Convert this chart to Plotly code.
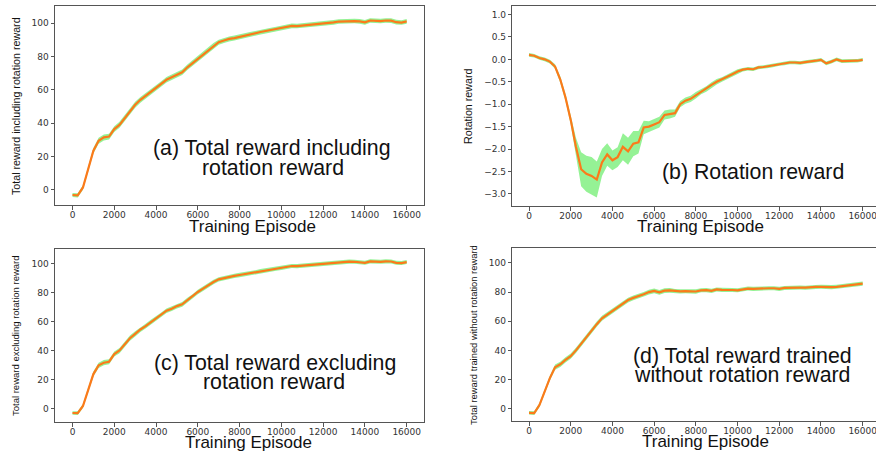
import plotly.graph_objects as go

# ---------------- data ----------------
episodes = list(range(0, 16001, 250))

reward_incl = [-3.0, -3.2, 1.5, 12.5, 23.5, 29.5, 31.5, 32.0, 36.5, 39.0, 43.0, 47.5, 51.0, 54.0, 56.5, 59.0,
               61.0, 63.5, 66.0, 67.5, 69.0, 70.5, 73.5, 76.0, 79.0, 81.5, 84.0, 86.5, 88.5, 89.5, 90.5, 91.0,
               91.8, 92.5, 93.2, 93.8, 94.6, 95.2, 95.8, 96.4, 97.0, 97.6, 98.3, 98.2, 98.5, 99.0, 99.3, 99.5,
               99.9, 99.8, 100.4, 100.9, 101.0, 101.3, 101.2, 101.0, 100.4, 101.5, 101.3, 101.2, 101.5, 101.4,
               100.5, 100.3, 101.0]
std_incl = [1.2, 1.3, 1.4, 1.6, 1.7, 1.8, 1.8, 1.7, 1.7, 1.8, 1.8, 1.8, 1.8, 1.7, 1.7, 1.7,
            1.7, 1.7, 1.6, 1.6, 1.6, 1.6, 1.6, 1.6, 1.6, 1.6, 1.6, 1.6, 1.5, 1.5, 1.5, 1.5,
            1.5, 1.4, 1.4, 1.4, 1.4, 1.4, 1.4, 1.4, 1.4, 1.4, 1.4, 1.4, 1.4, 1.4, 1.4, 1.4,
            1.4, 1.4, 1.4, 1.4, 1.4, 1.4, 1.4, 1.4, 1.4, 1.4, 1.4, 1.4, 1.4, 1.4,
            1.4, 1.4, 1.4]

rotation = [0.10, 0.08, 0.03, 0.00, -0.05, -0.16, -0.45, -0.85, -1.35, -1.95, -2.45, -2.55, -2.60, -2.68,
            -2.30, -2.12, -2.25, -2.18, -1.95, -2.05, -1.88, -1.85, -1.52, -1.50, -1.45, -1.40, -1.24, -1.22,
            -1.20, -1.00, -0.92, -0.88, -0.80, -0.72, -0.66, -0.57, -0.50, -0.45, -0.39, -0.33, -0.27, -0.23,
            -0.21, -0.22, -0.18, -0.17, -0.15, -0.13, -0.10, -0.09, -0.07, -0.07, -0.08, -0.06, -0.05, -0.03,
            -0.01, -0.09, -0.05, 0.00, -0.04, -0.04, -0.03, -0.03, -0.01]
std_rotation = [0.04, 0.04, 0.04, 0.04, 0.04, 0.05, 0.07, 0.08, 0.10, 0.20, 0.38, 0.40, 0.42, 0.40,
                0.30, 0.25, 0.22, 0.22, 0.30, 0.30, 0.28, 0.25, 0.15, 0.12, 0.12, 0.12, 0.10, 0.10,
                0.08, 0.07, 0.07, 0.07, 0.07, 0.06, 0.06, 0.06, 0.06, 0.05, 0.05, 0.05, 0.05, 0.04,
                0.04, 0.04, 0.04, 0.04, 0.04, 0.04, 0.04, 0.04, 0.04, 0.04, 0.04, 0.04, 0.04, 0.04,
                0.04, 0.04, 0.04, 0.04, 0.04, 0.04, 0.04, 0.04, 0.04]

reward_excl = [-3.0, -3.1, 1.8, 12.8, 23.8, 29.8, 31.6, 32.3, 37.6, 40.0, 44.0, 48.5, 51.5, 54.5, 56.8, 59.5,
               61.8, 64.5, 67.4, 68.8, 70.6, 71.8, 74.8, 77.2, 80.3, 82.6, 85.0, 87.2, 89.0, 89.8, 91.0, 91.4,
               92.0, 92.6, 93.3, 93.9, 94.7, 95.3, 95.9, 96.3, 96.8, 97.4, 98.2, 98.1, 98.4, 99.0, 99.3, 99.4,
               99.8, 99.7, 100.3, 100.8, 100.9, 101.2, 101.1, 101.0, 100.4, 101.4, 101.2, 101.1, 101.4, 101.3,
               100.4, 100.2, 100.9]
std_excl = [1.2, 1.3, 1.4, 1.6, 1.7, 1.8, 1.8, 1.7, 1.7, 1.8, 1.8, 1.8, 1.8, 1.7, 1.7, 1.7,
            1.7, 1.7, 1.6, 1.6, 1.6, 1.6, 1.6, 1.6, 1.6, 1.6, 1.6, 1.6, 1.5, 1.5, 1.5, 1.5,
            1.5, 1.4, 1.4, 1.4, 1.4, 1.4, 1.4, 1.4, 1.4, 1.4, 1.4, 1.4, 1.4, 1.4, 1.4, 1.4,
            1.4, 1.4, 1.4, 1.4, 1.4, 1.4, 1.4, 1.4, 1.4, 1.4, 1.4, 1.4, 1.4, 1.4,
            1.4, 1.4, 1.4]

reward_norot = [-2.8, -3.0, 2.5, 11.5, 21.0, 28.5, 30.5, 33.5, 36.0, 40.0, 44.5, 49.5, 54.0, 58.0, 62.0, 64.5,
                67.0, 69.5, 71.5, 74.5, 76.0, 77.0, 78.5, 80.0, 80.8, 79.8, 81.0, 81.2, 80.6, 80.5, 80.6, 80.4,
                80.4, 81.2, 81.3, 80.8, 81.8, 81.5, 81.7, 81.4, 81.2, 82.0, 82.4, 82.2, 82.5, 82.4, 82.6, 82.6,
                82.2, 82.8, 83.0, 82.9, 83.1, 83.0, 83.4, 83.5, 83.6, 83.3, 83.4, 83.6, 84.0, 84.2,
                84.6, 85.0, 85.8]
std_norot = [1.2, 1.3, 1.4, 1.6, 1.7, 1.8, 1.8, 1.8, 1.8, 1.8, 1.8, 1.8, 1.8, 1.8, 1.7, 1.7,
             1.7, 1.7, 1.6, 1.6, 1.6, 1.6, 1.6, 1.6, 1.6, 1.6, 1.6, 1.6, 1.5, 1.5, 1.5, 1.5,
             1.5, 1.4, 1.4, 1.4, 1.4, 1.4, 1.4, 1.4, 1.4, 1.4, 1.4, 1.4, 1.4, 1.4, 1.4, 1.4,
             1.4, 1.4, 1.4, 1.4, 1.4, 1.4, 1.4, 1.4, 1.4, 1.4, 1.4, 1.4, 1.4, 1.4,
             1.4, 1.4, 1.4]

x_ticks = [0, 2000, 4000, 6000, 8000, 10000, 12000, 14000, 16000]
x_ticktext = ["0", "2000", "4000", "6000", "8000", "10000", "12000", "14000", "16000"]
reward_ticks = [0, 20, 40, 60, 80, 100]
rotation_ticks = [-3.0, -2.5, -2.0, -1.5, -1.0, -0.5, 0.0, 0.5, 1.0]
rotation_ticktext = ["\u22123.0", "\u22122.5", "\u22122.0", "\u22121.5", "\u22121.0", "\u22120.5", "0.0", "0.5", "1.0"]

x_title = "Training Episode"
y_titles = ["Total reward including rotation reward", "Rotation reward",
            "Total reward excluding rotation reward", "Total reward trained without rotation reward"]
panel_labels = [["(a) Total reward including", "rotation reward"],
                ["(b) Rotation reward"],
                ["(c) Total reward excluding", "rotation reward"],
                ["(d) Total reward trained", "without rotation reward"]]

# ---------------- figure ----------------
W, H = 876, 452
LINE = "#fb7a1a"
BAND = "rgba(130,240,130,0.85)"
AX = "#555555"
TICKFONT = dict(family="DejaVu Sans", size=9, color="#333333")
SANS = "Liberation Sans, Arial"

def px(x):
    return x / W

def py(y):
    return 1 - y / H

fig = go.Figure()

panels = [
    dict(mean=reward_incl, std=std_incl, xd=[px(55), px(424)], yd=[py(205), py(6)],
         xr=[-838, 16828], yr=[-9.0, 110.2], mirror_y=True),
    dict(mean=rotation, std=std_rotation, xd=[px(512.3), 1.0], yd=[py(206), py(6)],
         xr=[-801, 16638], yr=[-3.27, 1.19], mirror_y=False),
    dict(mean=reward_excl, std=std_excl, xd=[px(55), px(424)], yd=[py(422), py(249)],
         xr=[-838, 16828], yr=[-9.2, 109.9], mirror_y=True),
    dict(mean=reward_norot, std=std_norot, xd=[px(512.3), 1.0], yd=[py(421), py(248.3)],
         xr=[-801, 16638], yr=[-8.4, 110.0], mirror_y=False),
]

for i, p in enumerate(panels):
    n = i + 1
    xa = "x" if n == 1 else f"x{n}"
    ya = "y" if n == 1 else f"y{n}"
    upper = [m + s for m, s in zip(p["mean"], p["std"])]
    lower = [m - s for m, s in zip(p["mean"], p["std"])]
    fig.add_trace(go.Scatter(x=episodes, y=upper, mode="lines", line=dict(width=0),
                             xaxis=xa, yaxis=ya, showlegend=False, hoverinfo="skip"))
    fig.add_trace(go.Scatter(x=episodes, y=lower, mode="lines", line=dict(width=0),
                             fill="tonexty", fillcolor=BAND,
                             xaxis=xa, yaxis=ya, showlegend=False, hoverinfo="skip"))
    fig.add_trace(go.Scatter(x=episodes, y=p["mean"], mode="lines",
                             line=dict(color=LINE, width=2.2),
                             xaxis=xa, yaxis=ya, showlegend=False))
    xkey = "xaxis" if n == 1 else f"xaxis{n}"
    ykey = "yaxis" if n == 1 else f"yaxis{n}"
    is_rot = (n == 2)
    fig.update_layout(**{
        xkey: dict(domain=p["xd"], range=p["xr"], anchor=ya, tickvals=x_ticks, ticktext=x_ticktext,
                   showgrid=False, zeroline=False, showline=True, linecolor=AX, linewidth=1,
                   mirror=True, ticks="outside", ticklen=3.5, tickcolor=AX, tickwidth=1,
                   tickfont=TICKFONT, fixedrange=True, ticklabeloverflow="allow",
                   ticklabelstandoff=-2),
        ykey: dict(domain=p["yd"], range=p["yr"], anchor=xa,
                   tickvals=rotation_ticks if is_rot else reward_ticks,
                   ticktext=rotation_ticktext if is_rot else [str(v) for v in reward_ticks],
                   showgrid=False, zeroline=False, showline=True, linecolor=AX, linewidth=1,
                   mirror=p["mirror_y"], ticks="outside", ticklen=3.5, tickcolor=AX, tickwidth=1,
                   tickfont=TICKFONT, fixedrange=True, ticklabeloverflow="allow"),
    })

annotations = []
# x-axis titles
for cx, cy in [(252, 227), (700, 227), (248, 442), (705, 441)]:
    annotations.append(dict(x=px(cx), y=py(cy), xref="paper", yref="paper", text=x_title,
                            showarrow=False, xanchor="center", yanchor="middle",
                            font=dict(family=SANS, size=17, color="#111111")))
# y-axis titles
for (cx, cy, fs), t in zip([(16, 106, 10.7), (468, 106, 10.7), (15, 336, 9.5), (473, 335, 9.4)], y_titles):
    annotations.append(dict(x=px(cx), y=py(cy), xref="paper", yref="paper", text=t, textangle=-90,
                            showarrow=False, xanchor="center", yanchor="middle",
                            font=dict(family=SANS, size=fs, color="#111111")))
# panel labels (one annotation per line)
label_pos = [[(272, 148), (273, 168)], [(753, 171.7)], [(275, 363), (274, 382)], [(742, 356), (742, 375)]]
for lines, poss in zip(panel_labels, label_pos):
    for t, (cx, cy) in zip(lines, poss):
        annotations.append(dict(x=px(cx), y=py(cy), xref="paper", yref="paper", text=t,
                                showarrow=False, xanchor="center", yanchor="middle",
                                font=dict(family=SANS, size=21.3, color="#111111")))

fig.update_layout(width=W, height=H, margin=dict(l=0, r=0, t=0, b=0),
                  paper_bgcolor="white", plot_bgcolor="white", annotations=annotations,
                  showlegend=False)

fig.write_html("out.html", config={"displayModeBar": False},
               post_script="document.body.style.margin='0px';document.body.style.overflow='hidden';")
